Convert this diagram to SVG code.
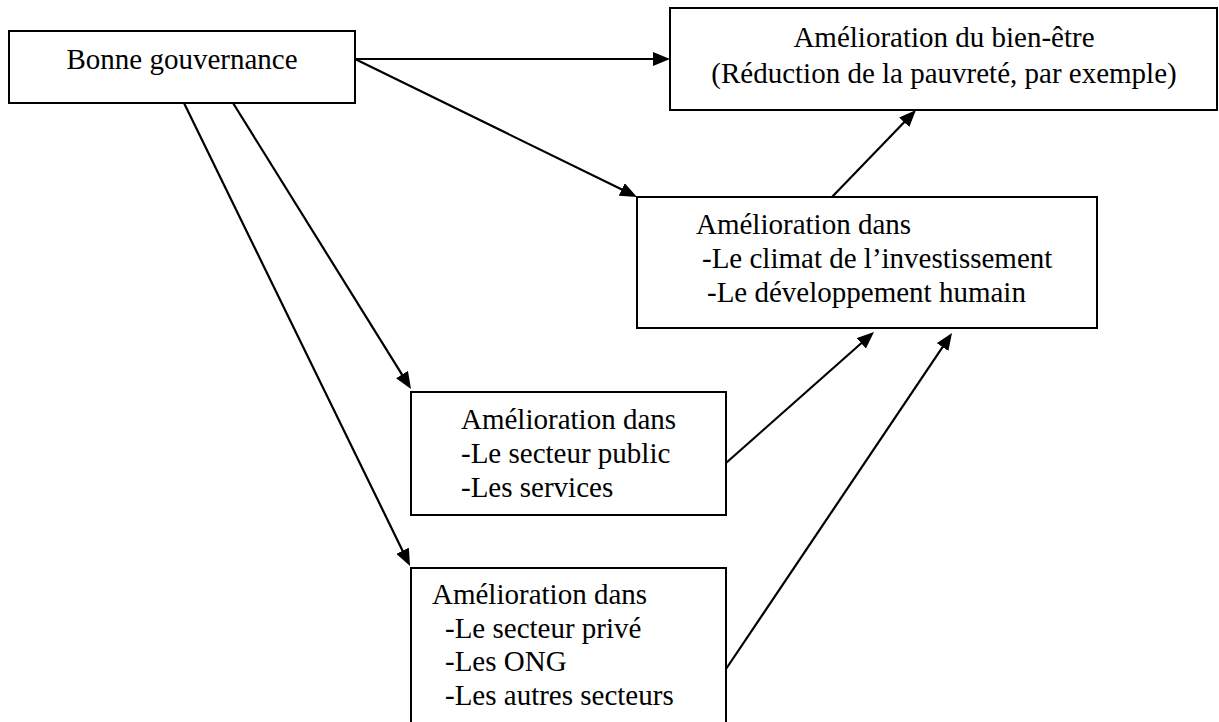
<svg xmlns="http://www.w3.org/2000/svg" width="1219" height="722" viewBox="0 0 1219 722">
<style>
.box{fill:#fff;stroke:#000;stroke-width:2}
.t{font-family:"Liberation Serif","Times New Roman",serif;font-size:29px;fill:#000}
.c{stroke:#000;stroke-width:2.2;fill:none;marker-end:url(#ah)}
</style>
<defs>
<marker id="ah" markerUnits="userSpaceOnUse" markerWidth="17" markerHeight="14" refX="3" refY="7" orient="auto">
<path d="M0,0 L17,7 L0,14 z" fill="#000"/>
</marker>
</defs>
<rect width="1219" height="722" fill="#fff"/>
<g id="n1">
<rect class="box" x="9" y="31" width="346" height="72"/>
<text class="t" x="182" y="69" text-anchor="middle">Bonne gouvernance</text>
</g>
<g id="n2">
<rect class="box" x="670" y="8" width="547" height="102"/>
<text class="t" x="944" y="47" text-anchor="middle">Amélioration du bien-être</text>
<text class="t" x="944" y="83" text-anchor="middle">(Réduction de la pauvreté, par exemple)</text>
</g>
<g id="n3">
<rect class="box" x="637" y="197" width="460" height="131"/>
<text class="t" x="696" y="234">Amélioration dans</text>
<text class="t" x="702" y="268">-Le climat de l’investissement</text>
<text class="t" x="707" y="302">-Le développement humain</text>
</g>
<g id="n4">
<rect class="box" x="411" y="392" width="315" height="123"/>
<text class="t" x="461" y="429">Amélioration dans</text>
<text class="t" x="461" y="463">-Le secteur public</text>
<text class="t" x="461" y="497">-Les services</text>
</g>
<g id="n5">
<rect class="box" x="411" y="568" width="315" height="170"/>
<text class="t" x="432" y="604">Amélioration dans</text>
<text class="t" x="445" y="638">-Le secteur privé</text>
<text class="t" x="445" y="671">-Les ONG</text>
<text class="t" x="445" y="705">-Les autres secteurs</text>
</g>
<g id="connectors">
<line class="c" x1="355" y1="59" x2="656" y2="59"/>
<line class="c" x1="355" y1="59" x2="624.4" y2="190.8"/>
<line class="c" x1="233" y1="103" x2="403.6" y2="377.1"/>
<line class="c" x1="184" y1="103" x2="403.9" y2="553.4"/>
<line class="c" x1="726" y1="463" x2="863.5" y2="341.3"/>
<line class="c" x1="726" y1="669" x2="944.2" y2="344.6"/>
<line class="c" x1="832" y1="197" x2="906.3" y2="120.1"/>
</g>
</svg>
